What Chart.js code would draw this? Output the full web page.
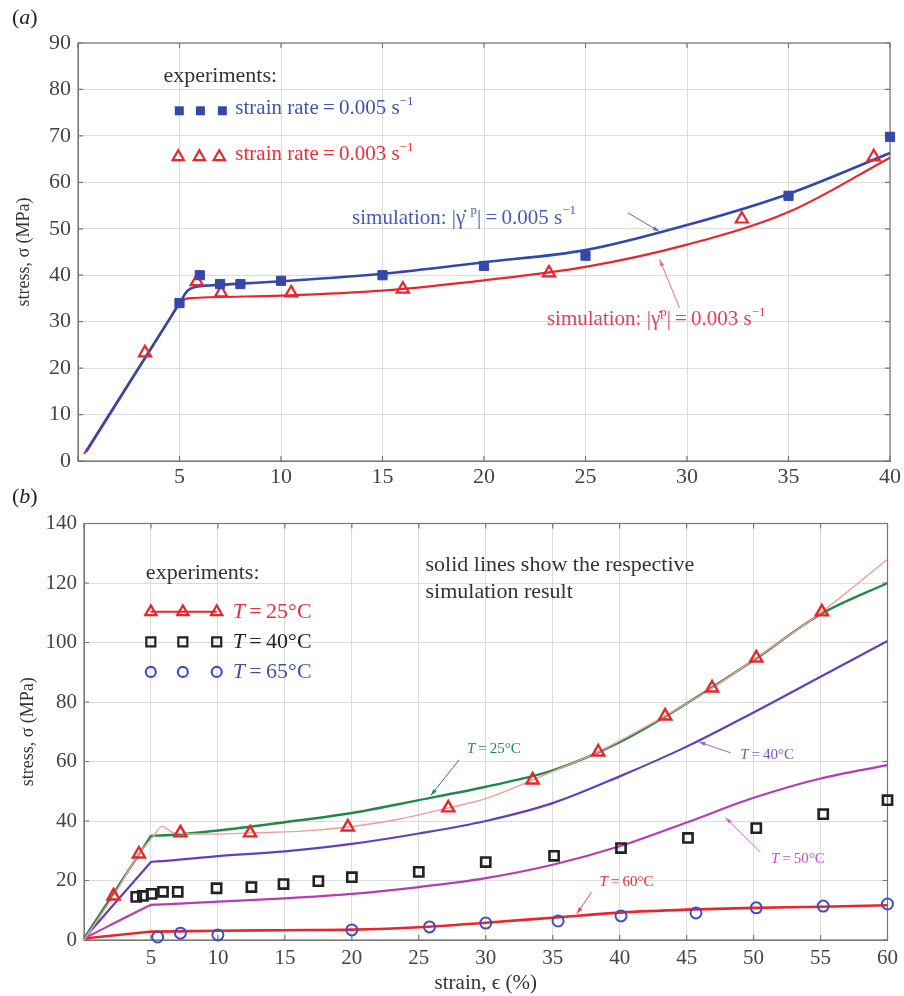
<!DOCTYPE html>
<html>
<head>
<meta charset="utf-8">
<script src="https://cdn.jsdelivr.net/npm/chart.js@4.4.1/dist/chart.umd.min.js"></script>
<style>
  html, body { margin: 0; padding: 0; background: #fff; }
  #wrap { position: relative; width: 904px; height: 996px; }
  canvas { position: absolute; left: 0; }
  #chartA { top: 0; }
  #chartB { top: 480px; }
</style>
</head>
<body>
<div id="wrap">
  <canvas id="chartA" width="904" height="490"></canvas>
  <canvas id="chartB" width="904" height="516"></canvas>
</div>
<script>
// ---- panel (a): strain rate ----
const xTicksA = [0, 5, 10, 15, 20, 25, 30, 35, 40];
const yTicksA = [0, 10, 20, 30, 40, 50, 60, 70, 80, 90];

const simA005_x = [0.4, 4.6, 5.0, 5.4, 5.8, 6.5, 8, 10, 15, 20, 25, 30, 35, 40];
const simA005_y = [2, 31.2, 34, 36.7, 37.5, 37.8, 38.2, 38.7, 40.3, 42.8, 45.4, 50.8, 57.5, 66.3];
const simA003_x = [0.3, 4.6, 5.0, 5.3, 5.7, 10, 15, 20, 25, 30, 35, 40];
const simA003_y = [1.5, 31.2, 34, 34.9, 35.1, 35.6, 36.7, 38.9, 41.8, 46.6, 53.6, 65.3];

const expA005_x = [5, 6, 7, 8, 10, 15, 20, 25, 35, 40];
const expA005_y = [34, 40, 38.1, 38.1, 38.8, 40, 42, 44.2, 57.1, 69.8];
const expA003_x = [3.3, 5.85, 7.05, 10.5, 16, 23.2, 32.7, 39.2];
const expA003_y = [23.3, 38.6, 36.2, 36.2, 37, 40.5, 52.1, 65.5];

// ---- panel (b): temperature ----
const xTicksB = [0, 5, 10, 15, 20, 25, 30, 35, 40, 45, 50, 55, 60];
const yTicksB = [0, 20, 40, 60, 80, 100, 120, 140];

const simB_x = [0, 4.9, 5, 5.4, 10, 15, 20, 25, 30, 35, 40, 45, 50, 55, 60];
const simB25 = [0.5, 34.3, 35, 35.1, 36.8, 39.6, 42.7, 47, 51.5, 57, 66.5, 79.5, 94, 109.5, 120];
const simB40 = [0.5, 25.7, 26.2, 26.4, 28.2, 29.8, 32.3, 35.8, 40, 46, 55, 65, 76.5, 88.5, 100.5];
const simB50 = [0.5, 11.6, 11.8, 11.9, 12.9, 14, 15.5, 17.8, 20.8, 25.3, 31.5, 39.5, 47.8, 54.3, 58.8];
const simB60 = [0.5, 2.75, 2.8, 2.82, 3.1, 3.3, 3.5, 4.3, 5.8, 7.5, 9.2, 10.2, 10.8, 11.2, 11.7];

const expB25line_x = [0, 2.2, 4.1, 5.2, 5.8, 6.6, 7.2, 10, 12.4, 16, 19.7, 23.5, 27.2, 30, 33.5, 36, 38.4, 43.4, 46.9, 50.2, 55.1, 60];
const expB25line_y = [0, 14.8, 28.9, 35, 38.2, 36.2, 35.8, 35.6, 36, 36.5, 38, 40.6, 44.4, 47.5, 53.8, 58.5, 63.2, 75.3, 84.7, 94.8, 110.3, 128];

const expB25_x = [2.2, 4.1, 7.2, 12.4, 19.7, 27.2, 33.5, 38.4, 43.4, 46.9, 50.2, 55.1];
const expB25_y = [14.8, 28.9, 36, 36, 38, 44.4, 53.8, 63.2, 75.3, 84.7, 94.8, 110.3];
const expB40_x = [3.9, 4.4, 5.05, 5.9, 7.0, 9.9, 12.5, 14.9, 17.5, 20, 25, 30, 35.1, 40.1, 45.1, 50.2, 55.2, 60];
const expB40_y = [14.5, 14.8, 15.5, 16.2, 16.2, 17.4, 17.8, 18.8, 19.8, 21.1, 22.9, 26.2, 28.3, 30.9, 34.3, 37.6, 42.3, 47];
const expB65_x = [5.5, 7.2, 10, 20, 25.8, 30, 35.4, 40.1, 45.7, 50.2, 55.2, 60];
const expB65_y = [1, 2.3, 1.7, 3.4, 4.4, 5.7, 6.4, 8.1, 9.1, 10.8, 11.4, 12.1];

const SERIF = "'Liberation Serif', 'Times New Roman', 'DejaVu Serif', serif";
const BLUE = '#3548a8', RED = '#e8262c', GREEN = '#23874a', PURPLE = '#6440b8', MAGENTA = '#b53cb5', PINK = '#f39a9a';

const pts = (xs, ys) => xs.map((x, i) => ({ x: x, y: ys[i] }));

// rich text: ^{..} superscript, _{..} italic
function drawRich(ctx, str, x, y, size, color) {
  const segs = str.split(/(\^\{[^}]*\}|_\{[^}]*\})/).filter(s => s).map(p => {
    if (p.startsWith('^{')) return { t: p.slice(2, -1), sup: true };
    if (p.startsWith('_{')) return { t: p.slice(2, -1), it: true };
    return { t: p };
  });
  ctx.save();
  ctx.fillStyle = color;
  ctx.textBaseline = 'middle';
  ctx.textAlign = 'left';
  let cx = x;
  segs.forEach(s => {
    const sz = s.sup ? Math.round(size * 0.62) : size;
    ctx.font = (s.it ? 'italic ' : '') + sz + 'px ' + SERIF;
    ctx.fillText(s.t, cx, s.sup ? y - size * 0.36 : y);
    cx += ctx.measureText(s.t).width;
  });
  ctx.restore();
}

function mark(ctx, shape, x, y, color, filled) {
  ctx.save();
  ctx.strokeStyle = color;
  ctx.fillStyle = color;
  ctx.lineWidth = 2.2;
  ctx.beginPath();
  if (shape === 'rect') {
    ctx.rect(x - 4.5, y - 4.5, 9, 9);
  } else if (shape === 'tri') {
    const r = 6.5;
    ctx.moveTo(x, y - r);
    ctx.lineTo(x + r * 0.866, y + r * 0.5);
    ctx.lineTo(x - r * 0.866, y + r * 0.5);
    ctx.closePath();
  } else {
    ctx.arc(x, y, 5, 0, Math.PI * 2);
  }
  filled ? ctx.fill() : ctx.stroke();
  ctx.restore();
}

function arrow(ctx, x1, y1, x2, y2, color) {
  ctx.save();
  ctx.strokeStyle = color;
  ctx.fillStyle = color;
  ctx.lineWidth = 1;
  ctx.beginPath();
  ctx.moveTo(x1, y1);
  ctx.lineTo(x2, y2);
  ctx.stroke();
  const a = Math.atan2(y2 - y1, x2 - x1);
  ctx.beginPath();
  ctx.moveTo(x2, y2);
  ctx.lineTo(x2 - 7 * Math.cos(a - 0.3), y2 - 7 * Math.sin(a - 0.3));
  ctx.lineTo(x2 - 7 * Math.cos(a + 0.3), y2 - 7 * Math.sin(a + 0.3));
  ctx.closePath();
  ctx.fill();
  ctx.restore();
}

const notesPlugin = {
  id: 'notes',
  beforeDatasetsDraw(chart) {
    const { ctx, chartArea: a, scales } = chart;
    ctx.save();
    ctx.strokeStyle = '#777';
    ctx.lineWidth = 1.2;
    ctx.strokeRect(a.left, a.top, a.right - a.left, a.bottom - a.top);
    ctx.beginPath();
    scales.x.ticks.forEach(t => {
      const px = scales.x.getPixelForValue(t.value);
      ctx.moveTo(px, a.bottom); ctx.lineTo(px, a.bottom - 5);
      ctx.moveTo(px, a.top); ctx.lineTo(px, a.top + 5);
    });
    scales.y.ticks.forEach(t => {
      const py = scales.y.getPixelForValue(t.value);
      ctx.moveTo(a.left, py); ctx.lineTo(a.left + 5, py);
      ctx.moveTo(a.right, py); ctx.lineTo(a.right - 5, py);
    });
    ctx.stroke();
    ctx.restore();
  },
  afterDatasetsDraw(chart, args, opts) {
    const { ctx, scales } = chart;
    const X = v => scales.x.getPixelForValue(v);
    const Y = v => scales.y.getPixelForValue(v);
    drawRich(ctx, opts.label, opts.labelPos[0], opts.labelPos[1], 22, '#222');
    (opts.legend || []).forEach(l => {
      if (l.line) {
        ctx.save();
        ctx.strokeStyle = l.color;
        ctx.lineWidth = 2;
        ctx.beginPath();
        ctx.moveTo(X(l.xs[0]), Y(l.y));
        ctx.lineTo(X(l.xs[l.xs.length - 1]), Y(l.y));
        ctx.stroke();
        ctx.restore();
      }
      l.xs.forEach(x => mark(ctx, l.shape, X(x), Y(l.y), l.color, l.filled));
    });
    (opts.arrows || []).forEach(r => arrow(ctx, X(r[0]), Y(r[1]), X(r[2]), Y(r[3]), r[4]));
    (opts.texts || []).forEach(t => drawRich(ctx, t.s, X(t.x), Y(t.y), t.size, t.color));
  }
};

function axisFont(size) {
  return { family: SERIF, size: size };
}

function makeScales(xt, yt, xMax, yMax, tickSize, yWidth, xHeight, xPad, yTitlePad, xTitle) {
  return {
    x: {
      type: 'linear', min: 0, max: xMax,
      afterBuildTicks: s => { s.ticks = xt.map(v => ({ value: v })); },
      afterFit: s => { s.height = xHeight; },
      ticks: { color: '#444', font: axisFont(tickSize), padding: xPad, maxRotation: 0, autoSkip: false,
               callback: v => (v === 0 ? '' : v) },
      grid: { color: '#dcdcdc', drawTicks: false },
      border: { color: '#777' },
      title: xTitle ? { display: true, text: xTitle, color: '#333', font: axisFont(21), padding: { top: 0, bottom: 0 } }
                    : { display: false }
    },
    y: {
      type: 'linear', min: 0, max: yMax,
      afterBuildTicks: s => { s.ticks = yt.map(v => ({ value: v })); },
      afterFit: s => { s.width = yWidth; },
      ticks: { color: '#444', font: axisFont(tickSize), padding: 7 },
      grid: { color: '#dcdcdc', drawTicks: false },
      border: { color: '#777' },
      title: { display: true, text: 'stress, σ (MPa)', color: '#333', font: axisFont(18), padding: { top: yTitlePad, bottom: 0 } }
    }
  };
}

const lineDs = (label, data, color, width, order) => ({
  label: label, data: data, borderColor: color, borderWidth: width, pointRadius: 0,
  showLine: true, fill: false, cubicInterpolationMode: 'monotone', order: order
});
const markDs = (label, data, style, radius, color, fillColor, width) => ({
  label: label, data: data, showLine: false, pointStyle: style, pointRadius: radius,
  borderColor: color, backgroundColor: fillColor, pointBorderWidth: width, clip: false, order: 0
});

new Chart(document.getElementById('chartA'), {
  type: 'scatter',
  data: {
    datasets: [
      lineDs('simulation 0.005', pts(simA005_x, simA005_y), BLUE, 2.6, 2),
      lineDs('simulation 0.003', pts(simA003_x, simA003_y), RED, 2.2, 3),
      markDs('strain rate 0.005', pts(expA005_x, expA005_y), 'rect', 6.5, BLUE, BLUE, 1),
      markDs('strain rate 0.003', pts(expA003_x, expA003_y), 'triangle', 7, RED, 'rgba(255,255,255,0)', 2.2)
    ]
  },
  options: {
    responsive: false, animation: false, events: [],
    layout: { padding: { top: 43, right: 12, left: 0, bottom: 0 } },
    scales: makeScales(xTicksA, yTicksA, 40, 90, 22, 78, 29, 3, 13, null),
    plugins: {
      legend: { display: false }, tooltip: { enabled: false },
      notes: {
        label: '(_{a})', labelPos: [12, 18],
        legend: [
          { shape: 'rect', xs: [4.99, 6.03, 7.11], y: 75.4, color: BLUE, filled: true },
          { shape: 'tri', xs: [4.94, 5.98, 6.96], y: 65.5, color: RED, filled: false }
        ],
        arrows: [
          [27.1, 53.4, 28.65, 49.4, '#5a6ab8'],
          [29.63, 33.0, 28.65, 43.4, '#e8707a']
        ],
        texts: [
          { s: 'experiments:', x: 4.21, y: 82.9, size: 22, color: '#333' },
          { s: 'strain rate\u2009=\u20090.005 s^{\u22121}', x: 7.75, y: 75.8, size: 21, color: '#4353ad' },
          { s: 'strain rate\u2009=\u20090.003 s^{\u22121}', x: 7.75, y: 65.9, size: 21, color: '#e8303c' },
          { s: 'simulation: |\u03B3\u0307 ^{p}|\u2009=\u20090.005 s^{\u22121}', x: 13.5, y: 52.3, size: 21, color: '#4a5ab0' },
          { s: 'simulation: |\u03B3\u0307^{p}|\u2009=\u20090.003 s^{\u22121}', x: 23.1, y: 30.4, size: 21, color: '#e0405a' }
        ]
      }
    }
  },
  plugins: [notesPlugin]
});

new Chart(document.getElementById('chartB'), {
  type: 'scatter',
  data: {
    datasets: [
      lineDs('simulation 25°C', pts(simB_x, simB25), GREEN, 2.4, 3),
      lineDs('simulation 40°C', pts(simB_x, simB40), PURPLE, 2.2, 3),
      lineDs('simulation 50°C', pts(simB_x, simB50), MAGENTA, 2.2, 3),
      lineDs('simulation 60°C', pts(simB_x, simB60), RED, 2.6, 3),
      lineDs('experiment 25°C', pts(expB25line_x, expB25line_y), PINK, 1.4, 2),
      markDs('T = 25°C', pts(expB25_x, expB25_y), 'triangle', 7, RED, 'rgba(255,255,255,0)', 2.4),
      markDs('T = 40°C', pts(expB40_x, expB40_y), 'rect', 6.5, '#222', 'rgba(255,255,255,0)', 2.6),
      markDs('T = 65°C', pts(expB65_x, expB65_y), 'circle', 5.5, '#3f4fc0', 'rgba(255,255,255,0)', 2)
    ]
  },
  options: {
    responsive: false, animation: false, events: [],
    layout: { padding: { top: 43.5, right: 15, left: 0, bottom: 0 } },
    scales: makeScales(xTicksB, yTicksB, 60, 140, 21, 84, 56, 6, 17, 'strain, \u03F5 (%)'),
    plugins: {
      legend: { display: false }, tooltip: { enabled: false },
      notes: {
        label: '(_{b})', labelPos: [12, 17],
        legend: [
          { shape: 'tri', xs: [4.99, 7.38, 9.91], y: 110.3, color: RED, filled: false, line: true },
          { shape: 'rect', xs: [4.99, 7.38, 9.91], y: 100.2, color: '#222', filled: false },
          { shape: 'circle', xs: [4.99, 7.38, 9.91], y: 90.1, color: '#3f4fc0', filled: false }
        ],
        arrows: [
          [28.0, 60.5, 25.9, 48.6, GREEN],
          [48.3, 62.9, 45.9, 66.6, '#8a70c8'],
          [50.5, 29.6, 47.9, 41.2, '#c070c0'],
          [37.9, 16.1, 36.8, 8.8, '#e05050']
        ],
        texts: [
          { s: 'experiments:', x: 4.62, y: 123.4, size: 22, color: '#333' },
          { s: '_{T}\u2009=\u200925°C', x: 11.1, y: 110.3, size: 22, color: '#e8303c' },
          { s: '_{T}\u2009=\u200940°C', x: 11.1, y: 100.2, size: 22, color: '#222' },
          { s: '_{T}\u2009=\u200965°C', x: 11.1, y: 90.1, size: 22, color: '#4353ad' },
          { s: 'solid lines show the respective', x: 25.5, y: 126, size: 22, color: '#333' },
          { s: 'simulation result', x: 25.5, y: 117, size: 22, color: '#333' },
          { s: '_{T}\u2009=\u200925°C', x: 28.6, y: 64.2, size: 15, color: GREEN },
          { s: '_{T}\u2009=\u200940°C', x: 49.0, y: 62.2, size: 15, color: '#7058c0' },
          { s: '_{T}\u2009=\u200950°C', x: 51.3, y: 27.2, size: 15, color: '#c050c0' },
          { s: '_{T}\u2009=\u200960°C', x: 38.5, y: 19.5, size: 15, color: '#e03030' }
        ]
      }
    }
  },
  plugins: [notesPlugin]
});
</script>
</body>
</html>
